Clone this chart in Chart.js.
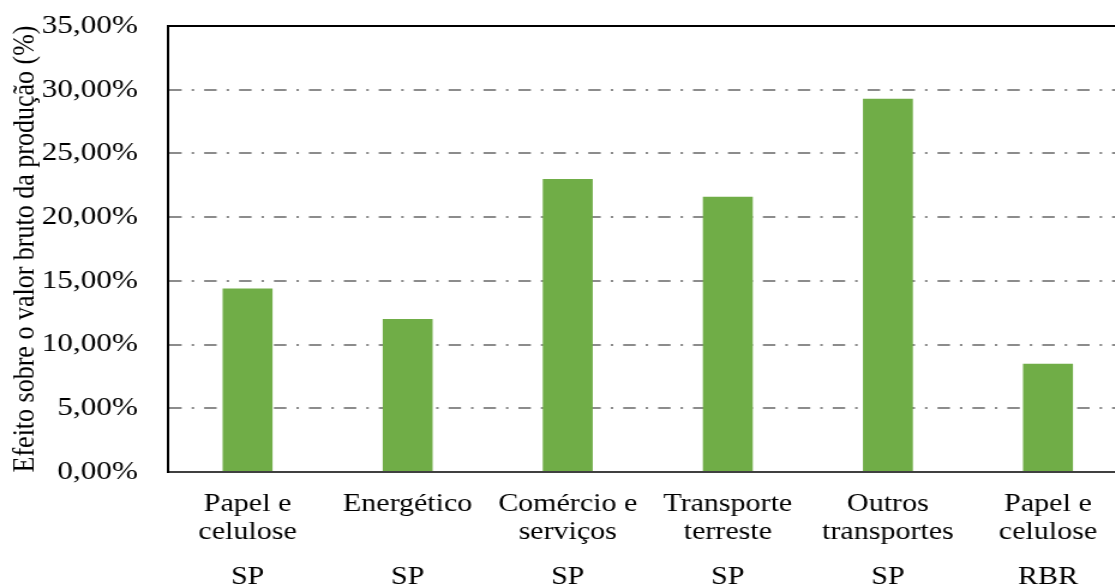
<!DOCTYPE html>
<html lang="pt">
<head>
  <meta charset="UTF-8">
  <title>Efeito sobre o valor bruto da produção</title>
  <script src="https://cdn.jsdelivr.net/npm/chart.js"></script>
  <style>
    html, body {
      margin: 0;
      padding: 0;
      background: #fff;
      overflow: hidden;
    }
    .wrap {
      width: 1115px;
      height: 586px;
      overflow: hidden;
    }
    /* text in this figure is set wide, so the whole canvas is stretched horizontally */
    #chart {
      display: block;
      transform: scaleX(1.2);
      transform-origin: 0 0;
    }
  </style>
</head>
<body>
  <div class="wrap">
    <canvas id="chart" width="950" height="600"></canvas>
  </div>

  <script>
    const sectors = [
      ['Papel e', 'celulose'],
      'Energético',
      ['Comércio e', 'serviços'],
      ['Transporte', 'terreste'],
      ['Outros', 'transportes'],
      ['Papel e', 'celulose']
    ];
    const regions = ['SP', 'SP', 'SP', 'SP', 'SP', 'RBR'];
    const effect = [14.4, 12.0, 23.0, 21.6, 29.3, 8.5];

    const serif = "'Liberation Serif', 'Times New Roman', serif";

    new Chart(document.getElementById('chart'), {
      type: 'bar',
      data: {
        labels: sectors,
        datasets: [{
          data: effect,
          backgroundColor: '#70ad47',
          borderWidth: 0,
          barPercentage: 0.312,
          categoryPercentage: 1
        }]
      },
      options: {
        responsive: false,
        animation: false,
        devicePixelRatio: 1,
        layout: {
          padding: { top: 26, left: 6, right: 10, bottom: 0 }
        },
        plugins: {
          legend: { display: false },
          tooltip: { enabled: false }
        },
        scales: {
          xTop: {
            type: 'category',
            labels: regions,
            position: 'top',
            offset: true,
            afterFit(scale) { scale.height = 0; },
            grid: { display: false, drawTicks: false },
            ticks: { display: false },
            border: { color: '#000', width: 2 }
          },
          x: {
            position: 'bottom',
            offset: true,
            afterFit(scale) { scale.height = 74; },
            grid: { display: false, drawTicks: false },
            border: { color: '#404040', width: 2 },
            ticks: {
              padding: 19,
              color: '#000',
              maxRotation: 0,
              autoSkip: false,
              font: { family: serif, size: 25, lineHeight: 1.1 }
            }
          },
          x2: {
            type: 'category',
            labels: regions,
            position: 'bottom',
            offset: true,
            afterFit(scale) { scale.height = 54; },
            grid: { display: false, drawTicks: false },
            border: { display: false },
            ticks: {
              padding: 18,
              color: '#000',
              maxRotation: 0,
              autoSkip: false,
              font: { family: serif, size: 25, lineHeight: 1.1 }
            }
          },
          y: {
            min: 0,
            max: 35,
            afterFit(scale) {
              // keep the plot top fixed; the top label has room in the layout padding
              scale.width = 133.6;
              scale.paddingTop = 0;
              scale.paddingBottom = 0;
            },
            grid: {
              color: '#8c8c8c',
              lineWidth: 2,
              drawTicks: false
            },
            border: {
              color: '#000',
              width: 2,
              dash: [10.4, 8.3, 2.1, 8.3]
            },
            ticks: {
              stepSize: 5,
              padding: 24.6,
              color: '#000',
              font: { family: serif, size: 26 },
              callback: v => v.toFixed(2).replace('.', ',') + '%'
            },
            title: {
              display: true,
              text: 'Efeito sobre o valor bruto da produção (%)',
              color: '#000',
              padding: 0,
              font: { family: serif, size: 26, lineHeight: 1.2 }
            }
          }
        }
      }
    });
  </script>
</body>
</html>
